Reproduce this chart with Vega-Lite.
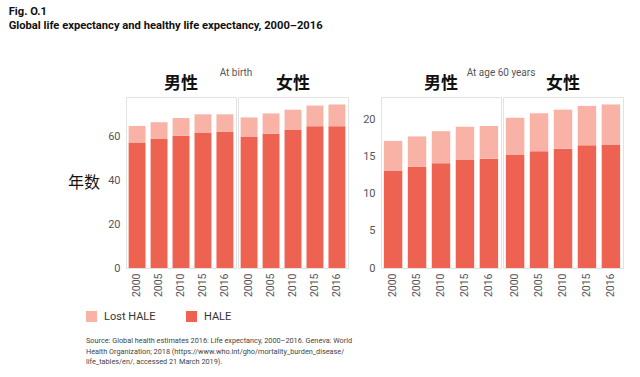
{
  "$schema": "https://vega.github.io/schema/vega-lite/v6.json",
  "background": "white",
  "padding": {"left": 8, "top": 5, "right": 8, "bottom": 5},
  "title": {
    "text": "Fig. O.1",
    "subtitle": "Global life expectancy and healthy life expectancy, 2000–2016",
    "anchor": "start",
    "frame": "bounds",
    "dx": -59,
    "font": "Roboto, sans-serif",
    "fontSize": 11.2,
    "fontWeight": "bold",
    "color": "#111",
    "subtitleFont": "Roboto, sans-serif",
    "subtitleFontSize": 11.2,
    "subtitleFontWeight": "bold",
    "subtitleColor": "#111",
    "subtitlePadding": 3,
    "offset": 37
  },
  "data": {
    "values": [
      {"panel": "At birth", "sex": "男性", "year": "2000", "measure": "HALE", "value": 57.3},
      {"panel": "At birth", "sex": "男性", "year": "2005", "measure": "HALE", "value": 58.9},
      {"panel": "At birth", "sex": "男性", "year": "2010", "measure": "HALE", "value": 60.3},
      {"panel": "At birth", "sex": "男性", "year": "2015", "measure": "HALE", "value": 61.8},
      {"panel": "At birth", "sex": "男性", "year": "2016", "measure": "HALE", "value": 62.1},
      {"panel": "At birth", "sex": "女性", "year": "2000", "measure": "HALE", "value": 60.0},
      {"panel": "At birth", "sex": "女性", "year": "2005", "measure": "HALE", "value": 61.2},
      {"panel": "At birth", "sex": "女性", "year": "2010", "measure": "HALE", "value": 63.2},
      {"panel": "At birth", "sex": "女性", "year": "2015", "measure": "HALE", "value": 64.7},
      {"panel": "At birth", "sex": "女性", "year": "2016", "measure": "HALE", "value": 64.7},
      {"panel": "At birth", "sex": "男性", "year": "2000", "measure": "Lost HALE", "value": 7.5},
      {"panel": "At birth", "sex": "男性", "year": "2005", "measure": "Lost HALE", "value": 7.6},
      {"panel": "At birth", "sex": "男性", "year": "2010", "measure": "Lost HALE", "value": 8.1},
      {"panel": "At birth", "sex": "男性", "year": "2015", "measure": "Lost HALE", "value": 8.3},
      {"panel": "At birth", "sex": "男性", "year": "2016", "measure": "Lost HALE", "value": 8.0},
      {"panel": "At birth", "sex": "女性", "year": "2000", "measure": "Lost HALE", "value": 8.7},
      {"panel": "At birth", "sex": "女性", "year": "2005", "measure": "Lost HALE", "value": 9.3},
      {"panel": "At birth", "sex": "女性", "year": "2010", "measure": "Lost HALE", "value": 9.0},
      {"panel": "At birth", "sex": "女性", "year": "2015", "measure": "Lost HALE", "value": 9.4},
      {"panel": "At birth", "sex": "女性", "year": "2016", "measure": "Lost HALE", "value": 9.9},
      {"panel": "At age 60 years", "sex": "男性", "year": "2000", "measure": "HALE", "value": 13.05},
      {"panel": "At age 60 years", "sex": "男性", "year": "2005", "measure": "HALE", "value": 13.6},
      {"panel": "At age 60 years", "sex": "男性", "year": "2010", "measure": "HALE", "value": 14.1},
      {"panel": "At age 60 years", "sex": "男性", "year": "2015", "measure": "HALE", "value": 14.6},
      {"panel": "At age 60 years", "sex": "男性", "year": "2016", "measure": "HALE", "value": 14.7},
      {"panel": "At age 60 years", "sex": "女性", "year": "2000", "measure": "HALE", "value": 15.2},
      {"panel": "At age 60 years", "sex": "女性", "year": "2005", "measure": "HALE", "value": 15.7},
      {"panel": "At age 60 years", "sex": "女性", "year": "2010", "measure": "HALE", "value": 16.05},
      {"panel": "At age 60 years", "sex": "女性", "year": "2015", "measure": "HALE", "value": 16.5},
      {"panel": "At age 60 years", "sex": "女性", "year": "2016", "measure": "HALE", "value": 16.6},
      {"panel": "At age 60 years", "sex": "男性", "year": "2000", "measure": "Lost HALE", "value": 4.05},
      {"panel": "At age 60 years", "sex": "男性", "year": "2005", "measure": "Lost HALE", "value": 4.1},
      {"panel": "At age 60 years", "sex": "男性", "year": "2010", "measure": "Lost HALE", "value": 4.3},
      {"panel": "At age 60 years", "sex": "男性", "year": "2015", "measure": "Lost HALE", "value": 4.4},
      {"panel": "At age 60 years", "sex": "男性", "year": "2016", "measure": "Lost HALE", "value": 4.4},
      {"panel": "At age 60 years", "sex": "女性", "year": "2000", "measure": "Lost HALE", "value": 5.0},
      {"panel": "At age 60 years", "sex": "女性", "year": "2005", "measure": "Lost HALE", "value": 5.1},
      {"panel": "At age 60 years", "sex": "女性", "year": "2010", "measure": "Lost HALE", "value": 5.25},
      {"panel": "At age 60 years", "sex": "女性", "year": "2015", "measure": "Lost HALE", "value": 5.3},
      {"panel": "At age 60 years", "sex": "女性", "year": "2016", "measure": "Lost HALE", "value": 5.4}
    ]
  },
  "spacing": 13,
  "hconcat": [
    {
      "title": {"text": "At birth", "offset": -3, "anchor": "start", "frame": "group", "align": "center", "dx": 110},
      "transform": [{"filter": "datum.panel === 'At birth'"}],
      "spacing": 0,
      "facet": {
        "column": {"field": "sex", "type": "nominal", "sort": ["男性", "女性"], "header": {"title": null}}
      },
      "spec": {
        "width": 110,
        "height": 171,
        "mark": {"type": "bar"},
        "encoding": {
          "x": {"field": "year", "type": "ordinal", "scale": {"paddingInner": 0.23, "paddingOuter": 0.12}, "axis": {"title": null}},
          "y": {
            "field": "value", "type": "quantitative", "stack": "zero",
            "scale": {"domain": [0, 78], "nice": false},
            "axis": {"title": "年数", "values": [0, 20, 40, 60]}
          },
          "color": {
            "field": "measure", "type": "nominal",
            "scale": {"domain": ["Lost HALE", "HALE"], "range": ["#F8B3A6", "#EE6251"]},
            "legend": {
              "title": [
                "Source: Global health estimates 2016: Life expectancy, 2000–2016. Geneva: World",
                "Health Organization; 2018 (https://www.who.int/gho/mortality_burden_disease/",
                "life_tables/en/, accessed 21 March 2019)."
              ]
            }
          },
          "order": {"field": "measure", "sort": "ascending"}
        }
      }
    },
    {
      "title": {"text": "At age 60 years", "offset": -3, "anchor": "start", "frame": "group", "align": "center", "dx": 120},
      "transform": [{"filter": "datum.panel === 'At age 60 years'"}],
      "spacing": 0,
      "facet": {
        "column": {"field": "sex", "type": "nominal", "sort": ["男性", "女性"], "header": {"title": null}}
      },
      "spec": {
        "width": 120,
        "height": 171,
        "mark": {"type": "bar"},
        "encoding": {
          "x": {"field": "year", "type": "ordinal", "scale": {"paddingInner": 0.23, "paddingOuter": 0.12}, "axis": {"title": null}},
          "y": {
            "field": "value", "type": "quantitative", "stack": "zero",
            "scale": {"domain": [0, 23], "nice": false},
            "axis": {"title": null, "values": [0, 5, 10, 15, 20]}
          },
          "color": {
            "field": "measure", "type": "nominal",
            "scale": {"domain": ["Lost HALE", "HALE"], "range": ["#F8B3A6", "#EE6251"]}
          },
          "order": {"field": "measure", "sort": "ascending"}
        }
      }
    }
  ],
  "resolve": {"scale": {"y": "independent"}},
  "config": {
    "font": "Roboto, sans-serif",
    "view": {"stroke": "#e2e2e2", "strokeWidth": 1},
    "title": {"fontSize": 10, "fontWeight": "normal", "color": "#555"},
    "header": {
      "labelFont": "Noto Sans CJK SC",
      "labelFontSize": 17,
      "labelFontWeight": "bold",
      "labelColor": "#111",
      "labelPadding": 3
    },
    "axis": {
      "domain": false,
      "ticks": false,
      "grid": false,
      "labelFontSize": 11,
      "labelColor": "#555",
      "labelPadding": 5
    },
    "axisX": {"labelAngle": -90, "labelPadding": 4, "labelFontSize": 10.5},
    "axisY": {
      "titleFont": "Noto Sans CJK SC",
      "titleFontSize": 16,
      "titleFontWeight": "normal",
      "titleColor": "#111",
      "titleAngle": 0,
      "titleAlign": "right",
      "titleBaseline": "middle",
      "titlePadding": 8
    },
    "legend": {
      "orient": "none",
      "legendX": -40,
      "legendY": 214,
      "direction": "horizontal",
      "symbolType": "square",
      "symbolSize": 121,
      "symbolStrokeWidth": 0,
      "labelFontSize": 11,
      "labelColor": "#333",
      "labelOffset": 7,
      "columnPadding": 30,
      "titleOrient": "bottom",
      "titleFontSize": 7.3,
      "titleFontWeight": "normal",
      "titleColor": "#444",
      "titleLimit": 1000,
      "titleLineHeight": 10.5,
      "titlePadding": 15,
      "titleAnchor": "start"
    }
  }
}
